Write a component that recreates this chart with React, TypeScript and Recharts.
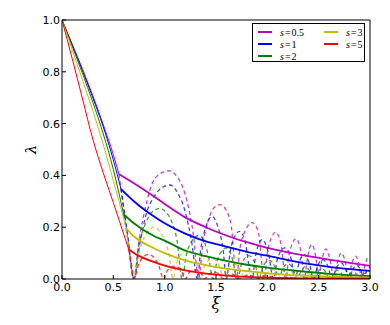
import React from 'react';
import { LineChart, Line, XAxis, YAxis, Label } from 'recharts';

const xTicks = [0, 0.5, 1, 1.5, 2, 2.5, 3];
const yTicks = [0, 0.2, 0.4, 0.6, 0.8, 1];

const seriesNames = ['0.5', '1', '2', '3', '5'];
const colors = ['#bf00bf', '#0000ff', '#008000', '#bfbf00', '#ff0000'];

// solid, before the kink (thin)
const headS05 = [[0, 1], [0.1, 0.906], [0.2, 0.81], [0.3, 0.708], [0.4, 0.598], [0.5, 0.48], [0.555, 0.405]];
const headS1 = [[0, 1], [0.1, 0.903], [0.2, 0.804], [0.3, 0.7], [0.4, 0.59], [0.5, 0.46], [0.575, 0.347]];
const headS2 = [[0, 1], [0.1, 0.898], [0.2, 0.793], [0.3, 0.683], [0.4, 0.563], [0.5, 0.423], [0.6, 0.25]];
const headS3 = [[0, 1], [0.1, 0.885], [0.2, 0.768], [0.3, 0.65], [0.4, 0.522], [0.5, 0.38], [0.626, 0.195]];
const headS5 = [[0, 1], [0.1, 0.85], [0.2, 0.695], [0.3, 0.54], [0.4, 0.412], [0.5, 0.295], [0.649, 0.115]];

// solid, after the kink (thick)
const tailS05 = [[0.555, 0.405], [0.7, 0.37], [0.9, 0.318], [1.0, 0.29], [1.2, 0.238], [1.4, 0.2], [1.6, 0.168], [1.8, 0.142], [2.0, 0.12], [2.2, 0.103], [2.4, 0.088], [2.6, 0.075], [2.8, 0.062], [3.0, 0.051]];
const tailS1 = [[0.575, 0.347], [0.7, 0.3], [0.9, 0.24], [1.0, 0.215], [1.2, 0.175], [1.4, 0.145], [1.6, 0.125], [1.8, 0.105], [2.0, 0.09], [2.2, 0.073], [2.4, 0.058], [2.6, 0.047], [2.8, 0.038], [3.0, 0.031]];
const tailS2 = [[0.6, 0.25], [0.7, 0.215], [0.9, 0.165], [1.0, 0.148], [1.2, 0.11], [1.4, 0.088], [1.6, 0.07], [1.8, 0.055], [2.0, 0.044], [2.2, 0.035], [2.4, 0.027], [2.6, 0.02], [2.8, 0.015], [3.0, 0.011]];
const tailS3 = [[0.626, 0.195], [0.7, 0.165], [0.9, 0.118], [1.0, 0.1], [1.2, 0.072], [1.4, 0.054], [1.6, 0.04], [1.8, 0.03], [2.0, 0.022], [2.2, 0.016], [2.4, 0.012], [2.6, 0.009], [2.8, 0.007], [3.0, 0.005]];
const tailS5 = [[0.649, 0.115], [0.7, 0.1], [0.9, 0.065], [1.0, 0.052], [1.2, 0.033], [1.4, 0.021], [1.6, 0.013], [1.8, 0.008], [2.0, 0.005], [2.4, 0.002], [3.0, 0.001]];

// dashed oscillating curves
const waveS05 = [
  [0.555, 0.405], [0.63, 0.19], [0.7, 0],
  [0.75, 0.15], [0.81, 0.27], [0.87, 0.36], [0.95, 0.405], [1.04, 0.418], [1.12, 0.395], [1.17, 0.36], [1.23, 0.28], [1.28, 0.17], [1.33, 0],
  [1.37, 0.13], [1.42, 0.22], [1.48, 0.275], [1.54, 0.287], [1.6, 0.265], [1.65, 0.2], [1.7, 0],
  [1.73, 0.11], [1.79, 0.19], [1.85, 0.218], [1.91, 0.185], [1.97, 0],
  [2.0, 0.1], [2.04, 0.16], [2.08, 0.18], [2.13, 0.14], [2.18, 0],
  [2.21, 0.09], [2.28, 0.155], [2.33, 0.1], [2.36, 0],
  [2.39, 0.08], [2.43, 0.133], [2.47, 0.09], [2.5, 0],
  [2.53, 0.07], [2.57, 0.116], [2.61, 0.075], [2.65, 0],
  [2.68, 0.06], [2.72, 0.1], [2.76, 0.065], [2.79, 0],
  [2.82, 0.055], [2.86, 0.088], [2.89, 0.06], [2.92, 0],
  [2.95, 0.05], [2.98, 0.083], [3.0, 0.08],
];
const waveS1 = [
  [0.575, 0.347], [0.64, 0.17], [0.7, 0],
  [0.76, 0.14], [0.82, 0.25], [0.9, 0.32], [0.97, 0.352], [1.05, 0.363], [1.13, 0.33], [1.2, 0.26], [1.26, 0.15], [1.32, 0],
  [1.35, 0.11], [1.4, 0.2], [1.46, 0.242], [1.52, 0.2], [1.57, 0.11], [1.6, 0],
  [1.64, 0.11], [1.69, 0.17], [1.73, 0.184], [1.78, 0.15], [1.85, 0],
  [1.89, 0.1], [1.95, 0.152], [2.01, 0.1], [2.06, 0],
  [2.1, 0.08], [2.17, 0.12], [2.23, 0.08], [2.27, 0],
  [2.31, 0.065], [2.36, 0.094], [2.41, 0.06], [2.45, 0],
  [2.49, 0.05], [2.54, 0.075], [2.59, 0.05], [2.63, 0],
  [2.67, 0.04], [2.72, 0.062], [2.76, 0.04], [2.8, 0],
  [2.83, 0.035], [2.87, 0.052], [2.91, 0.035], [2.94, 0],
  [2.97, 0.035], [3.0, 0.045],
];
const waveS2 = [
  [0.6, 0.25], [0.65, 0.13], [0.7, 0],
  [0.75, 0.13], [0.82, 0.22], [0.88, 0.26], [0.95, 0.272], [1.02, 0.255], [1.07, 0.22], [1.12, 0.15], [1.17, 0],
  [1.21, 0.09], [1.27, 0.15], [1.33, 0.168], [1.39, 0.14], [1.43, 0.08], [1.47, 0],
  [1.51, 0.07], [1.56, 0.11], [1.6, 0.12], [1.65, 0.09], [1.71, 0],
  [1.75, 0.06], [1.82, 0.09], [1.88, 0.06], [1.92, 0],
  [1.96, 0.05], [2.02, 0.072], [2.07, 0.05], [2.11, 0],
  [2.15, 0.04], [2.2, 0.058], [2.25, 0.04], [2.29, 0],
  [2.33, 0.032], [2.37, 0.048], [2.41, 0.032], [2.45, 0],
  [2.49, 0.027], [2.53, 0.04], [2.57, 0.027], [2.61, 0],
  [2.65, 0.022], [2.68, 0.034], [2.72, 0.022], [2.76, 0],
  [2.8, 0.018], [2.83, 0.028], [2.87, 0.018], [2.9, 0],
  [2.93, 0.016], [2.96, 0.024], [3.0, 0.015],
];
const waveS3 = [
  [0.626, 0.195], [0.66, 0.1], [0.7, 0],
  [0.75, 0.1], [0.8, 0.16], [0.85, 0.19], [0.89, 0.2], [0.95, 0.185], [1.0, 0.15], [1.04, 0.1], [1.08, 0],
  [1.12, 0.065], [1.17, 0.1], [1.22, 0.112], [1.28, 0.09], [1.32, 0.05], [1.35, 0],
  [1.39, 0.05], [1.43, 0.072], [1.47, 0.078], [1.52, 0.06], [1.58, 0],
  [1.62, 0.04], [1.68, 0.058], [1.73, 0.04], [1.78, 0],
  [1.82, 0.03], [1.87, 0.045], [1.92, 0.03], [1.96, 0],
  [2.0, 0.024], [2.05, 0.036], [2.1, 0.024], [2.14, 0],
  [2.18, 0.02], [2.22, 0.03], [2.26, 0.02], [2.3, 0],
  [2.34, 0.016], [2.38, 0.025], [2.42, 0.016], [2.46, 0],
  [2.5, 0.014], [2.54, 0.021], [2.58, 0.014], [2.62, 0],
  [2.66, 0.012], [2.7, 0.018], [2.74, 0.012], [2.78, 0],
  [2.82, 0.01], [2.85, 0.015], [2.89, 0.01], [2.92, 0],
  [2.95, 0.009], [2.98, 0.013], [3.0, 0.012],
];
const waveS5 = [
  [0.649, 0.115], [0.68, 0.05], [0.7, 0],
  [0.75, 0.06], [0.79, 0.085], [0.84, 0.095], [0.89, 0.085], [0.94, 0.055], [0.99, 0],
  [1.03, 0.035], [1.1, 0.05], [1.16, 0.035], [1.2, 0],
  [1.24, 0.025], [1.3, 0.035], [1.35, 0.025], [1.39, 0],
  [1.43, 0.018], [1.48, 0.026], [1.53, 0.018], [1.57, 0],
  [1.61, 0.013], [1.65, 0.02], [1.69, 0.013], [1.73, 0],
  [1.77, 0.01], [1.82, 0.015], [1.86, 0.01], [1.9, 0],
  [1.94, 0.008], [2.0, 0.012], [2.05, 0.008], [2.1, 0],
  [2.2, 0.007], [2.3, 0], [2.4, 0.005], [2.5, 0], [2.7, 0.003], [3.0, 0.001],
];

const toPts = (pairs: number[][]) => pairs.map(([xi, lam]) => ({ xi, lam }));

const heads = [headS05, headS1, headS2, headS3, headS5].map(toPts);
const tails = [tailS05, tailS1, tailS2, tailS3, tailS5].map(toPts);
const waves = [waveS05, waveS1, waveS2, waveS3, waveS5].map(toPts);

const tickFont = { fill: '#000', fontSize: 11, fontFamily: 'DejaVu Sans' };
const mathFont = { fontFamily: 'DejaVu Serif', fontStyle: 'italic' as const };

const LegendRow = ({ i }: { i: number }) => (
  <div style={{ display: 'flex', alignItems: 'center', height: 12 }}>
    <div style={{ width: 14, height: 2, background: colors[i], marginRight: 8 }} />
    <span style={{ fontFamily: 'Liberation Serif', fontSize: 10, color: '#000', whiteSpace: 'nowrap' }}>
      <i>s</i>
      <span style={{ margin: '0 1px' }}>=</span>
      {seriesNames[i]}
    </span>
  </div>
);

const LegendBox = () => (
  <div
    style={{
      position: 'absolute',
      left: 252,
      top: 23,
      width: 113,
      height: 39,
      border: '1px solid #000',
      background: '#fff',
      boxSizing: 'border-box',
      padding: '2px 0 0 5px',
      display: 'flex',
    }}
  >
    <div style={{ width: 66 }}>
      <LegendRow i={0} />
      <LegendRow i={1} />
      <LegendRow i={2} />
    </div>
    <div>
      <LegendRow i={3} />
      <LegendRow i={4} />
    </div>
  </div>
);

export default function App() {
  return (
    <div style={{ position: 'absolute', left: 0, top: 0, width: 390, height: 325, background: '#fff' }}>
      <LineChart width={390} height={325} margin={{ top: 19, right: 19, left: 0, bottom: 0 }}>
        <XAxis
          dataKey="xi"
          type="number"
          domain={[0, 3]}
          ticks={xTicks}
          allowDataOverflow
          height={46}
          tickSize={-4}
          tickMargin={8}
          tick={tickFont}
          tickFormatter={(v: number) => v.toFixed(1)}
          axisLine={{ stroke: '#000' }}
          tickLine={{ stroke: '#000' }}
        >
          <Label value="ξ" position="center" dy={1} style={{ ...mathFont, fontSize: 16, fill: '#000' }} />
        </XAxis>
        <XAxis
          xAxisId="top"
          orientation="top"
          type="number"
          domain={[0, 3]}
          ticks={xTicks}
          height={1}
          tickSize={-4}
          tick={false}
          axisLine={{ stroke: '#000' }}
          tickLine={{ stroke: '#000' }}
        />
        <YAxis
          type="number"
          domain={[0, 1]}
          ticks={yTicks}
          allowDataOverflow
          width={62}
          tickSize={-4}
          tickMargin={6}
          tick={tickFont}
          tickFormatter={(v: number) => v.toFixed(1)}
          axisLine={{ stroke: '#000' }}
          tickLine={{ stroke: '#000' }}
        >
          <Label value="λ" angle={-90} position="center" style={{ ...mathFont, fontSize: 15, fill: '#000' }} />
        </YAxis>
        <YAxis
          yAxisId="right"
          orientation="right"
          type="number"
          domain={[0, 1]}
          ticks={yTicks}
          width={1}
          tickSize={-4}
          tick={false}
          axisLine={{ stroke: '#000' }}
          tickLine={{ stroke: '#000' }}
        />
        {waves.map((d, i) => (
          <Line
            key={'w' + i}
            data={d}
            dataKey="lam"
            type="monotone"
            stroke={colors[i]}
            strokeOpacity={0.75}
            strokeWidth={1.3}
            strokeDasharray="4 3"
            dot={false}
            activeDot={false}
            isAnimationActive={false}
          />
        ))}
        {heads.map((d, i) => (
          <Line
            key={'h' + i}
            data={d}
            dataKey="lam"
            type="monotone"
            stroke={colors[i]}
            strokeWidth={1}
            dot={false}
            activeDot={false}
            isAnimationActive={false}
          />
        ))}
        {tails.map((d, i) => (
          <Line
            key={'t' + i}
            data={d}
            dataKey="lam"
            type="monotone"
            stroke={colors[i]}
            strokeWidth={1.8}
            dot={false}
            activeDot={false}
            isAnimationActive={false}
          />
        ))}
      </LineChart>
      <LegendBox />
    </div>
  );
}
